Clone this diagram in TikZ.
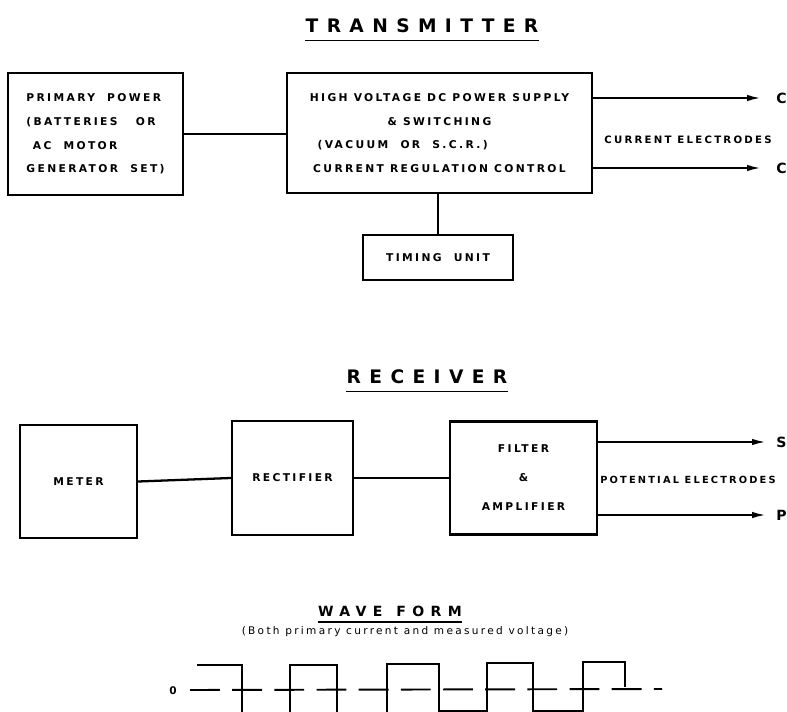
\documentclass[tikz,border=0pt]{standalone}
\usepackage{fontspec}
\newfontfamily\stencil[LetterSpace=22]{DejaVu Sans}
\newfontfamily\heading[LetterSpace=45]{DejaVu Sans}
\usetikzlibrary{arrows.meta,positioning,calc}

\begin{document}
\begin{tikzpicture}[x=0.02cm,y=-0.02cm,
  blk/.style={draw,line width=1.4pt,inner sep=0pt,align=center,font=\stencil\bfseries\fontsize{6.1}{13.5}\selectfont},
  wire/.style={line width=1.3pt},
  lead/.style={line width=0.8pt,-{Latex[length=2.6mm,width=1.3mm]}},
  lab/.style={font=\stencil\bfseries\fontsize{5.8}{7}\selectfont,inner sep=0pt},
  ttl/.style={font=\heading\bfseries\fontsize{10.6}{12}\selectfont,inner sep=0pt},
  uline/.style={line width=1pt},
  term/.style={font=\stencil\bfseries\fontsize{8}{10}\selectfont,anchor=west,inner sep=0pt},
  wave/.style={line width=0.9pt},
  axis/.style={line width=1.1pt,dash pattern=on 17pt off 7pt}]
  \useasboundingbox (0,0) rectangle (787,712);

  % transmitter
  \node[ttl] (txtitle) at (422,26) {TRANSMITTER};
  \draw[uline] ([yshift=-4pt]txtitle.south west) -- ([yshift=-4pt]txtitle.south east);
  \node[blk,align=left,minimum width=3.5cm,minimum height=2.44cm] (power) at (95.5,134)
    {PRIMARY\ \ POWER\\(BATTERIES\ \ \ OR\\\hspace*{0.6em}AC\ \ MOTOR\\GENERATOR\ \ SET)};
  \node[blk,minimum width=6.1cm,minimum height=2.4cm] (hv) at (439.5,133)
    {HIGH VOLTAGE DC POWER SUPPLY\\\& SWITCHING\\(VACUUM\ \ OR\ \ S.C.R.)\rule{42pt}{0pt}\\CURRENT REGULATION CONTROL};
  \node[blk,minimum width=3.0cm,minimum height=0.9cm] (timing) at (438,257.5) {TIMING\ \ UNIT};
  \draw[wire] (power.east) -- (power.east -| hv.west);
  \draw[wire] (timing.north) -- (timing.north |- hv.south);
  \coordinate (c1) at (760,98);
  \coordinate (c2) at (760,168);
  \draw[lead] (hv.east |- c1) -- (c1);
  \draw[lead] (hv.east |- c2) -- (c2);
  \node[term] (c1lab) at (776,98) {C};
  \node[term] (c2lab) at (776,168) {C};
  \node[lab] (cur) at (688,140) {CURRENT ELECTRODES};

  % receiver
  \node[ttl] (rxtitle) at (427,377) {RECEIVER};
  \draw[uline] ([yshift=-4pt]rxtitle.south west) -- ([yshift=-4pt]rxtitle.south east);
  \node[blk,minimum width=2.34cm,minimum height=2.26cm] (meter) at (78.5,481.5) {METER};
  \node[blk,minimum width=2.42cm,minimum height=2.28cm] (rect) at (292.5,478) {RECTIFIER};
  \node[blk,minimum width=2.94cm,minimum height=2.26cm,font=\stencil\bfseries\fontsize{6.1}{16.5}\selectfont] (filter) at (523.5,478)
    {FILTER\\\&\\AMPLIFIER};
  \draw[wire] (meter.east) -- (rect.west);
  \draw[wire] (rect.east) -- (filter.west);
  \coordinate (s1) at (765,442);
  \coordinate (p1) at (765,515);
  \draw[lead] (filter.east |- s1) -- (s1);
  \draw[lead] (filter.east |- p1) -- (p1);
  \node[term] (slab) at (776,442) {S};
  \node[term] (plab) at (776,515) {P};
  \node[lab,font=\stencil\bfseries\fontsize{5.6}{7}\selectfont] (pot) at (688,480) {POTENTIAL ELECTRODES};

  % wave form
  \node[ttl,font=\heading\bfseries\fontsize{8}{10}\selectfont] (wftitle) at (390,611) {WAVE\quad FORM};
  \draw[uline] ([yshift=-3pt]wftitle.south west) -- ([yshift=-3pt]wftitle.south east);
  \node[lab,font=\stencil\fontsize{6}{7}\selectfont] (wfnote) at (405,632) {(Both primary current and measured voltage)};
  \node[lab,font=\stencil\bfseries\fontsize{6}{7}\selectfont] (zero) at (173,691) {0};
  \draw[axis] (190,690) -- (662,689);
  \draw[wave] (197,665) -- (242,665) -- (242,716) -- (290,716) -- (290,665) -- (337,665)
    -- (337,716) -- (387,716) -- (387,664) -- (439,664) -- (439,711) -- (487,711)
    -- (487,663) -- (533,663) -- (533,711) -- (583,711) -- (583,662) -- (625,662) -- (625,687);
\end{tikzpicture}
\end{document}
